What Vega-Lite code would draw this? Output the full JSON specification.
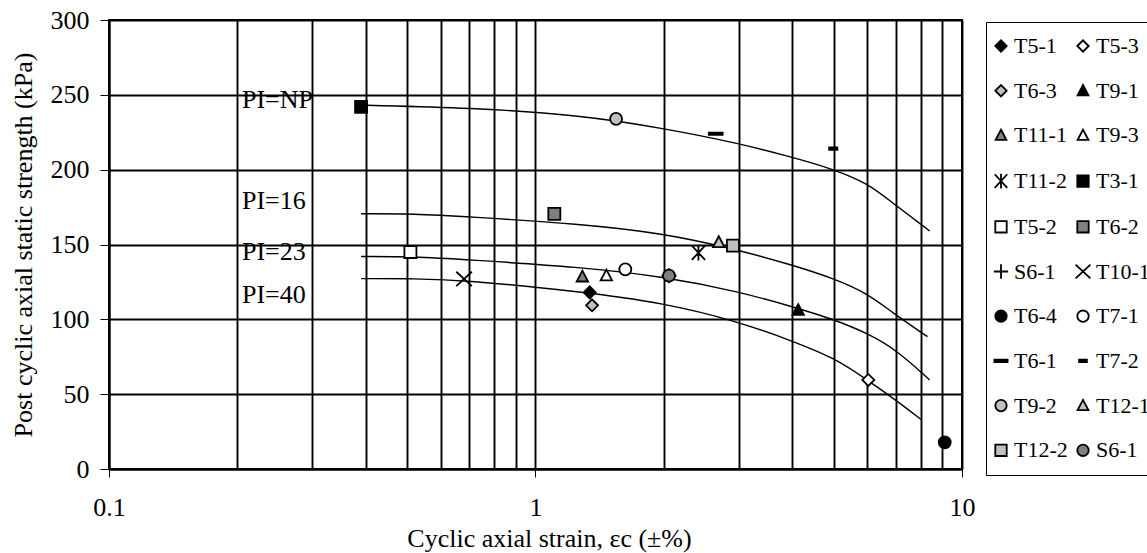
{
  "$schema": "https://vega.github.io/schema/vega-lite/v6.json",
  "width": 853,
  "height": 449,
  "autosize": {"type": "none"},
  "padding": {"left": 109, "top": 20, "right": 185, "bottom": 84},
  "background": "white",
  "config": {
    "font": "Liberation Serif",
    "view": {"stroke": "black", "strokeWidth": 2},
    "legend": {
      "orient": "none", "legendX": 877, "legendY": 2, "title": null, "columns": 2, "direction": "horizontal",
      "strokeColor": "black", "fillColor": "white", "padding": 13, "rowPadding": 22.7, "columnPadding": 3,
      "labelFont": "Liberation Serif", "labelFontSize": 22, "labelColor": "black", "labelOffset": 2, "labelLimit": 200,
      "symbolSize": 130, "symbolStrokeWidth": 1.8, "symbolLimit": 0, "symbolOffset": -9
    }
  },
  "datasets": {
    "curves": [
      {"curve": "NP", "strain": 0.4, "strength": 243},
      {"curve": "NP", "strain": 0.7, "strength": 241.4},
      {"curve": "NP", "strain": 1.27, "strength": 236.5},
      {"curve": "NP", "strain": 2, "strength": 227.6},
      {"curve": "NP", "strain": 3, "strength": 217.6},
      {"curve": "NP", "strain": 4, "strength": 208.3},
      {"curve": "NP", "strain": 5, "strength": 200.3},
      {"curve": "NP", "strain": 6, "strength": 191},
      {"curve": "NP", "strain": 6.9, "strength": 177.5},
      {"curve": "NP", "strain": 8.4, "strength": 159},
      {"curve": "16", "strain": 0.39, "strength": 170.5},
      {"curve": "16", "strain": 0.52, "strength": 170.5},
      {"curve": "16", "strain": 0.69, "strength": 168.6},
      {"curve": "16", "strain": 1.27, "strength": 163.8},
      {"curve": "16", "strain": 2, "strength": 157.5},
      {"curve": "16", "strain": 3, "strength": 146.3},
      {"curve": "16", "strain": 4, "strength": 136.3},
      {"curve": "16", "strain": 5, "strength": 127.4},
      {"curve": "16", "strain": 6, "strength": 117.4},
      {"curve": "16", "strain": 6.9, "strength": 104},
      {"curve": "16", "strain": 8.3, "strength": 88.4},
      {"curve": "23", "strain": 0.39, "strength": 142},
      {"curve": "23", "strain": 0.52, "strength": 142},
      {"curve": "23", "strain": 0.69, "strength": 139.8},
      {"curve": "23", "strain": 1.27, "strength": 135},
      {"curve": "23", "strain": 2, "strength": 128.5},
      {"curve": "23", "strain": 3, "strength": 118.5},
      {"curve": "23", "strain": 4, "strength": 108.5},
      {"curve": "23", "strain": 5, "strength": 100},
      {"curve": "23", "strain": 6, "strength": 90.7},
      {"curve": "23", "strain": 7.03, "strength": 79.5},
      {"curve": "23", "strain": 8.4, "strength": 59.5},
      {"curve": "40", "strain": 0.39, "strength": 127.2},
      {"curve": "40", "strain": 0.52, "strength": 127.2},
      {"curve": "40", "strain": 0.68, "strength": 126.3},
      {"curve": "40", "strain": 1.27, "strength": 118.5},
      {"curve": "40", "strain": 2, "strength": 111},
      {"curve": "40", "strain": 3, "strength": 98.4},
      {"curve": "40", "strain": 4, "strength": 85.5},
      {"curve": "40", "strain": 5, "strength": 74.5},
      {"curve": "40", "strain": 6, "strength": 59.5},
      {"curve": "40", "strain": 7, "strength": 46},
      {"curve": "40", "strain": 8.05, "strength": 32.7}
    ],
    "points": [
      {"test": "T3-1", "strain": 0.39, "strength": 242},
      {"test": "T9-2", "strain": 1.545, "strength": 234},
      {"test": "T6-1", "strain": 2.646, "strength": 224},
      {"test": "T7-2", "strain": 4.99, "strength": 214},
      {"test": "T6-2", "strain": 1.107, "strength": 170.4},
      {"test": "T12-1", "strain": 2.69, "strength": 151.5},
      {"test": "T12-2", "strain": 2.904, "strength": 149.2},
      {"test": "T11-2", "strain": 2.41, "strength": 144.5},
      {"test": "T5-2", "strain": 0.509, "strength": 145},
      {"test": "T10-1", "strain": 0.68, "strength": 127},
      {"test": "T11-1", "strain": 1.288, "strength": 128.5},
      {"test": "T9-3", "strain": 1.466, "strength": 129.2},
      {"test": "T7-1", "strain": 1.624, "strength": 133.4},
      {"test": "S6-1", "strain": 2.056, "strength": 129.2},
      {"test": "S6-1 ", "strain": 2.056, "strength": 129.2},
      {"test": "T5-1", "strain": 1.34, "strength": 118},
      {"test": "T6-3", "strain": 1.357, "strength": 109.4},
      {"test": "T9-1", "strain": 4.13, "strength": 106.2},
      {"test": "T5-3", "strain": 6.03, "strength": 59.5},
      {"test": "T6-4", "strain": 9.11, "strength": 17.8}
    ],
    "labels": [
      {"label": "PI=NP", "strain": 0.205, "strength": 241.2},
      {"label": "PI=16", "strain": 0.205, "strength": 173.5},
      {"label": "PI=23", "strain": 0.205, "strength": 139.7},
      {"label": "PI=40", "strain": 0.205, "strength": 111.1}
    ]
  },
  "encoding": {
    "x": {
      "field": "strain",
      "type": "quantitative",
      "scale": {"type": "log", "domain": [0.1, 10]},
      "axis": {
        "values": [0.1, 0.2, 0.3, 0.4, 0.5, 0.6, 0.7, 0.8, 0.9, 1, 2, 3, 4, 5, 6, 7, 8, 9, 10],
        "grid": true,
        "gridColor": "black",
        "gridWidth": 1.9,
        "gridOpacity": 1,
        "domainColor": "black",
        "domainWidth": 2,
        "tickColor": "black",
        "tickWidth": 1,
        "tickSize": 8,
        "tickOpacity": {"condition": {"test": "datum.value == 0.1 || datum.value == 1 || datum.value == 10", "value": 1}, "value": 0},
        "labelExpr": "datum.value == 0.1 ? '0.1' : datum.value == 1 ? '1' : datum.value == 10 ? '10' : ''",
        "labelOverlap": false,
        "labelFlush": false,
        "labelFont": "Liberation Serif",
        "labelFontSize": 26,
        "labelColor": "black",
        "labelPadding": 17,
        "title": "Cyclic axial strain, εc (±%)",
        "titleFont": "Liberation Serif",
        "titleFontSize": 26,
        "titleFontWeight": "normal",
        "titleColor": "black",
        "titlePadding": 5,
        "titleX": 440
      }
    },
    "y": {
      "field": "strength",
      "type": "quantitative",
      "scale": {"domain": [0, 300]},
      "axis": {
        "values": [0, 50, 100, 150, 200, 250, 300],
        "grid": true,
        "gridColor": "black",
        "gridWidth": 1.9,
        "gridOpacity": 1,
        "domainColor": "black",
        "domainWidth": 2,
        "tickColor": "black",
        "tickWidth": 1,
        "tickSize": 9,
        "labelFont": "Liberation Serif",
        "labelFontSize": 26,
        "labelColor": "black",
        "labelPadding": 11,
        "title": "Post cyclic axial static strength (kPa)",
        "titleFont": "Liberation Serif",
        "titleFontSize": 26,
        "titleFontWeight": "normal",
        "titleColor": "black",
        "titlePadding": 14
      }
    }
  },
  "layer": [
    {
      "data": {"name": "curves"},
      "mark": {"type": "line", "stroke": "black", "strokeWidth": 1.4, "interpolate": "basis"},
      "encoding": {"detail": {"field": "curve", "type": "nominal"}}
    },
    {
      "data": {"name": "points"},
      "mark": {"type": "point", "filled": true, "strokeWidth": 1.8, "size": 144, "opacity": 1},
      "encoding": {
        "shape": {
          "field": "test",
          "type": "nominal",
          "scale": {
            "domain": ["T5-1", "T5-3", "T6-3", "T9-1", "T11-1", "T9-3", "T11-2", "T3-1", "T5-2", "T6-2", "S6-1", "T10-1", "T6-4", "T7-1", "T6-1", "T7-2", "T9-2", "T12-1", "T12-2", "S6-1 "],
            "range": ["diamond", "diamond", "diamond", "M0,-1L0.95,0.8L-0.95,0.8Z", "M0,-1L0.95,0.8L-0.95,0.8Z", "M0,-1L0.95,0.8L-0.95,0.8Z", "M-1.1,-1.2L1.1,1.2M-1.1,1.2L1.1,-1.2M0,-1.3L0,1.3", "square", "square", "square", "M-1.25,0L1.25,0M0,-1.25L0,1.25", "M-1.3,-1.2L1.3,1.2M-1.3,1.2L1.3,-1.2", "circle", "circle", "M-1.15,-0.2H1.15V0.2H-1.15Z", "M-0.68,-0.2H0.68V0.2H-0.68Z", "circle", "M0,-1L0.95,0.8L-0.95,0.8Z", "square", "circle"]
          }
        },
        "fill": {
          "field": "test",
          "type": "nominal",
          "scale": {
            "domain": ["T5-1", "T5-3", "T6-3", "T9-1", "T11-1", "T9-3", "T11-2", "T3-1", "T5-2", "T6-2", "S6-1", "T10-1", "T6-4", "T7-1", "T6-1", "T7-2", "T9-2", "T12-1", "T12-2", "S6-1 "],
            "range": ["black", "white", "#c0c0c0", "black", "#808080", "white", "black", "black", "white", "#808080", "black", "black", "black", "white", "black", "black", "#c0c0c0", "#c0c0c0", "#c0c0c0", "#808080"]
          }
        },
        "stroke": {
          "field": "test",
          "type": "nominal",
          "scale": {
            "domain": ["T5-1", "T5-3", "T6-3", "T9-1", "T11-1", "T9-3", "T11-2", "T3-1", "T5-2", "T6-2", "S6-1", "T10-1", "T6-4", "T7-1", "T6-1", "T7-2", "T9-2", "T12-1", "T12-2", "S6-1 "],
            "range": ["black", "black", "black", "black", "black", "black", "black", "black", "black", "black", "black", "black", "black", "black", "black", "black", "black", "black", "black", "black"]
          }
        }
      }
    },
    {
      "data": {"name": "labels"},
      "mark": {"type": "text", "align": "left", "baseline": "alphabetic", "fontSize": 26, "font": "Liberation Serif", "color": "black"},
      "encoding": {"text": {"field": "label", "type": "nominal"}}
    }
  ]
}
